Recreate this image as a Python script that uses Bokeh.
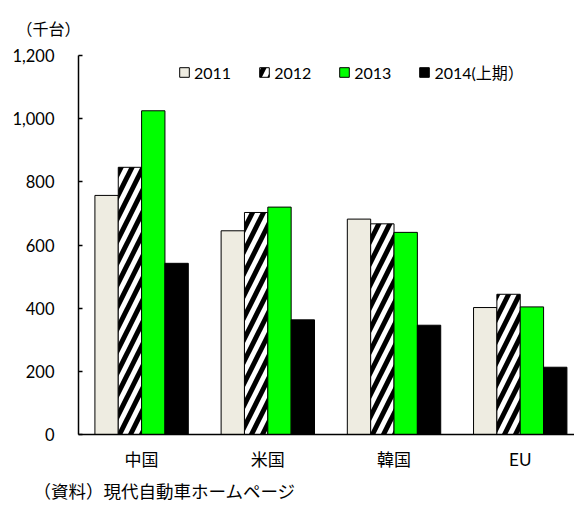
from bokeh.plotting import figure
from bokeh.models import (Range1d, FixedTicker, NumeralTickFormatter, Legend,
                          LegendItem, Title, ColumnDataSource)
from bokeh.embed import file_html
from bokeh.resources import INLINE

# ---- data ----
categories = ["中国", "米国", "韓国", "EU"]
series_names = ["2011", "2012", "2013", "2014(上期）"]
v2011 = [757, 645, 682, 402]
v2012 = [846, 703, 667, 444]
v2013 = [1025, 720, 640, 404]
v2014 = [542, 363, 346, 213]
y_ticks = [0, 200, 400, 600, 800, 1000, 1200]
unit_text = "（千台）"
source_text = "（資料）現代自動車ホームページ"

NUM_FONT = "Lato, 'Noto Sans CJK JP'"
JP_FONT = "'Noto Sans CJK JP'"

p = figure(width=574, height=507, output_backend="svg", toolbar_location=None,
           x_range=Range1d(0, 3.93), y_range=Range1d(0, 1200),
           min_border_left=78, min_border_right=0, min_border_top=55,
           min_border_bottom=73)
p.outline_line_color = None
p.grid.visible = False
p.background_fill_color = "white"

n = len(series_names)
bw = 0.185
idx = list(range(len(categories)))
styles = [
    dict(fill_color="#EEECE1", line_color="black"),
    dict(fill_color="white", line_color="black", hatch_pattern="/",
         hatch_color="black", hatch_scale=22, hatch_weight=5),
    dict(fill_color="#00FF00", line_color="black"),
    dict(fill_color="black", line_color="black"),
]
items = []
for k, (name, vals) in enumerate(zip(series_names, [v2011, v2012, v2013, v2014])):
    xs = [i + 0.5 + (k - (n - 1) / 2) * bw for i in idx]
    src = ColumnDataSource(dict(x=xs, top=vals))
    r = p.vbar(x="x", top="top", bottom=0, width=bw, source=src,
               line_width=1, **styles[k])
    items.append(LegendItem(label=name, renderers=[r]))

legend = Legend(items=items, orientation="horizontal", location=(100, 350),
                border_line_color=None, background_fill_alpha=0,
                padding=0, margin=0, spacing=27, label_standoff=4,
                glyph_width=12, glyph_height=12,
                label_text_font=NUM_FONT, label_text_font_size="16px",
                label_text_color="black")
p.add_layout(legend)

# y axis
ya = p.yaxis[0]
ya.ticker = FixedTicker(ticks=y_ticks)
ya.formatter = NumeralTickFormatter(format="0,0")
ya.major_tick_in = 4
ya.major_tick_out = 0
ya.minor_tick_line_color = None
ya.axis_line_color = "black"
ya.axis_line_width = 1.5
ya.major_tick_line_width = 1.5
ya.major_label_text_font = NUM_FONT
ya.major_label_text_font_size = "16.5px"
ya.major_label_text_color = "black"
ya.major_label_standoff = 24

# x axis
xa = p.xaxis[0]
xa.ticker = FixedTicker(ticks=[i + 0.5 for i in idx])
xa.major_label_overrides = {i + 0.5: c for i, c in zip(idx, categories)}
xa.major_tick_in = 0
xa.major_tick_out = 0
xa.minor_tick_line_color = None
xa.axis_line_color = "black"
xa.axis_line_width = 1.5
xa.major_label_text_font = NUM_FONT
xa.major_label_text_font_size = "17px"
xa.major_label_text_color = "black"
xa.major_label_standoff = 14

p.title = Title(text=unit_text, align="left", offset=-62, vertical_align="top",
                text_font=JP_FONT, text_font_size="16px",
                text_font_style="normal", text_color="black", standoff=28)
p.add_layout(Title(text=source_text, align="left", offset=-45,
                   vertical_align="bottom", standoff=6,
                   text_font=JP_FONT, text_font_size="17.5px",
                   text_font_style="normal", text_color="black"), "below")

open("out.html", "w").write(file_html(p, INLINE))
